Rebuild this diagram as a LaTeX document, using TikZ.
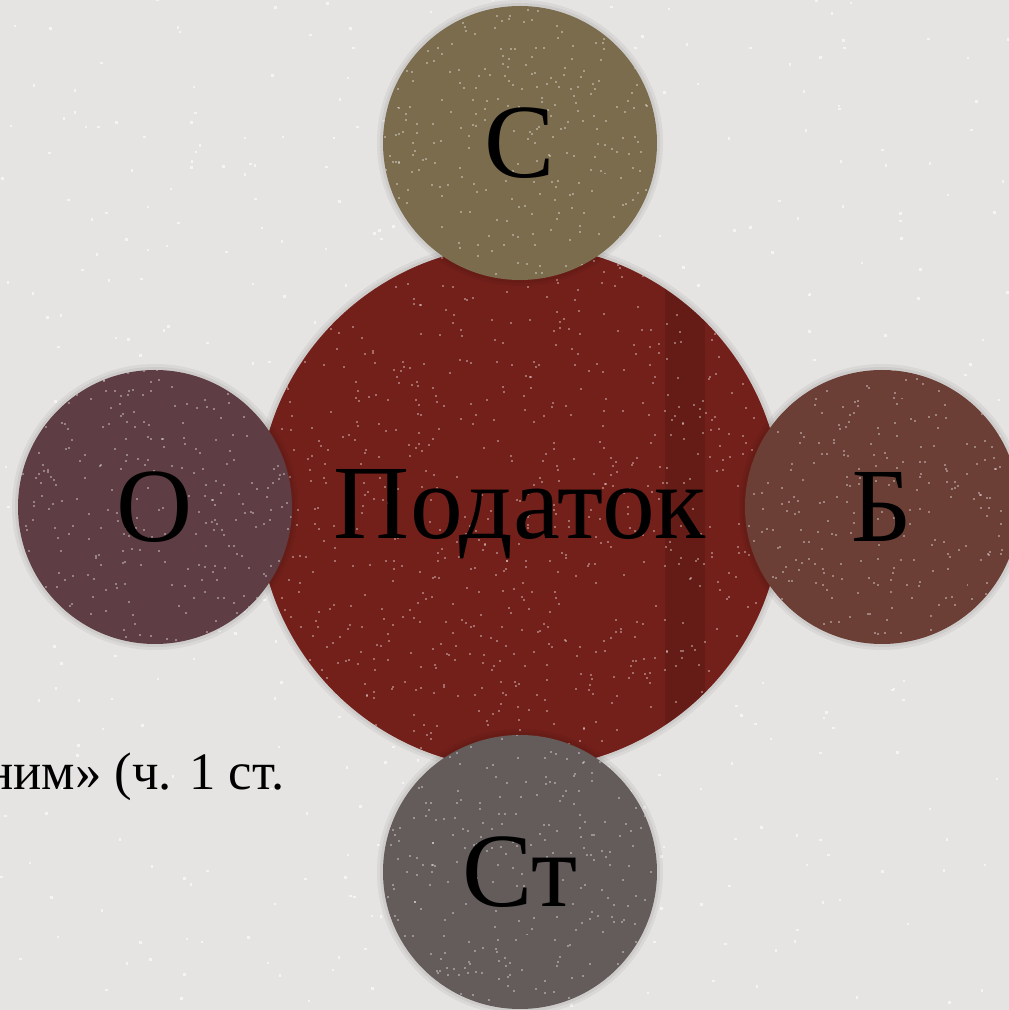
\documentclass[tikz,border=0pt]{standalone}
\usepackage{fontspec}
\setmainfont{Liberation Serif}
\usetikzlibrary{calc}
\definecolor{bgc}{HTML}{E6E4E2}
\definecolor{bigc}{HTML}{74201A}
\definecolor{topc}{HTML}{7A6C4C}
\definecolor{leftc}{HTML}{5E3E44}
\definecolor{rightc}{HTML}{6C3F36}
\definecolor{botc}{HTML}{645B5B}
\tikzset{
  disc/.style={circle, inner sep=0pt, text=black},
  bigdisc/.style={disc, fill=bigc, minimum size=10.48cm, font=\fontsize{60}{60}\selectfont},
  smalldisc/.style={disc, minimum size=5.48cm, font=\fontsize{60}{60}\selectfont},
  speck/.style={fill=white, opacity=0.35},
  halo/.style={fill=black, opacity=0.05}
}
\begin{document}
\begin{tikzpicture}
\useasboundingbox (0,0) rectangle (20.18,20.2);
\clip (0,0) rectangle (20.18,20.2);
\fill[bgc] (0,0) rectangle (20.18,20.2);
\pgfmathsetseed{7}
\foreach \i in {1,...,500}{
  \pgfmathsetmacro{\xx}{rnd*20.18}
  \pgfmathsetmacro{\yy}{rnd*20.2}
  \fill[white, opacity=0.6] (\xx,\yy) rectangle ++(0.05,0.05);
}
\node[anchor=base east, inner sep=0pt, font=\fontsize{30}{30}\selectfont] (cut) at (5.7,4.4) {ним» (ч. 1 ст.};
\foreach \r in {5.30,5.36}{\fill[halo] (10.4,10.06) circle (\r);}
\node[bigdisc] (main) at (10.4,10.06) {};
\begin{scope}
\clip (10.4,10.06) circle (5.24);
\fill[black, opacity=0.12] (13.3,0) rectangle (14.1,20.2);
\pgfmathsetseed{11}
\foreach \i in {1,...,900}{
  \pgfmathsetmacro{\xx}{5.16+rnd*10.48}
  \pgfmathsetmacro{\yy}{4.82+rnd*10.48}
  \fill[speck] (\xx,\yy) rectangle ++(0.04,0.04);
}
\end{scope}
\node[bigdisc, fill=none, yshift=-0.15cm] (maintext) at (main.center) {Податок};
\foreach \p in {(10.4,17.34),(3.1,10.06),(17.64,10.06),(10.4,2.76)}{
  \foreach \r in {2.80,2.86}{\fill[halo] \p circle (\r);}
}
\node[smalldisc, fill=topc] (s) at (10.4,17.34) {};
\node[smalldisc, fill=leftc] (o) at (3.1,10.06) {};
\node[smalldisc, fill=rightc] (b) at (17.64,10.06) {};
\node[smalldisc, fill=botc] (st) at (10.4,2.76) {};
\foreach \c/\s in {s/3,o/5,b/9,st/13}{
  \begin{scope}
  \clip (\c.center) circle (2.74);
  \pgfmathsetseed{\s}
  \foreach \i in {1,...,300}{
    \pgfmathsetmacro{\xx}{rnd*5.48-2.74}
    \pgfmathsetmacro{\yy}{rnd*5.48-2.74}
    \fill[speck] ($(\c.center)+(\xx,\yy)$) rectangle ++(0.04,0.04);
  }
  \end{scope}
}
\node[smalldisc] (stext) at (s.center) {С};
\node[smalldisc] (otext) at (o.center) {О};
\node[smalldisc] (btext) at (b.center) {Б};
\node[smalldisc] (sttext) at (st.center) {Ст};
\end{tikzpicture}
\end{document}
